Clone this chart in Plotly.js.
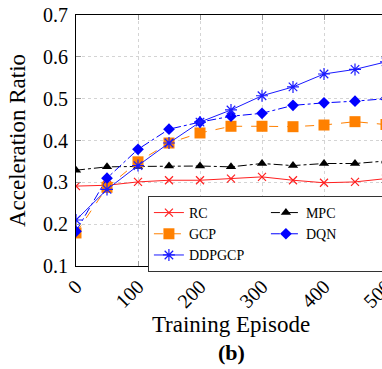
<!DOCTYPE html>
<html>
<head>
<meta charset="utf-8">
<script src="https://cdn.plot.ly/plotly-3.0.1.min.js"></script>
<style>
html,body{margin:0;padding:0;overflow:hidden;background:#fff;}
#chart{width:386px;height:369px;}
</style>
</head>
<body>
<div id="chart"></div>
<script>
const episodes = [0, 50, 100, 150, 200, 250, 300, 350, 400, 450, 500];
const rc     = [0.291, 0.293, 0.301, 0.305, 0.305, 0.309, 0.313, 0.305, 0.299, 0.301, 0.309];
const gcp    = [0.179, 0.288, 0.349, 0.394, 0.418, 0.434, 0.434, 0.433, 0.437, 0.445, 0.438];
const ddpgcp = [0.210, 0.283, 0.340, 0.394, 0.444, 0.473, 0.507, 0.528, 0.559, 0.570, 0.588];
const mpc    = [0.329, 0.337, 0.338, 0.339, 0.339, 0.337, 0.345, 0.340, 0.345, 0.345, 0.351];
const dqn    = [0.183, 0.310, 0.379, 0.427, 0.444, 0.458, 0.465, 0.484, 0.490, 0.494, 0.500];
const xTicks = [0, 100, 200, 300, 400, 500];
const yTicks = [0.1, 0.2, 0.3, 0.4, 0.5, 0.6, 0.7];

const serif = "Liberation Serif, Times New Roman, serif";

const traces = [
  {name:'RC', x:episodes, y:rc, mode:'lines+markers',
   line:{color:'#ff2020', width:1},
   marker:{symbol:'x-thin-open', size:8, color:'#ff2020', line:{color:'#ff2020', width:1.2}}},
  {name:'MPC', x:episodes, y:mpc, mode:'lines+markers',
   line:{color:'#000000', width:1, dash:'dashdot'},
   marker:{symbol:'triangle-up', size:9, color:'#000000'}},
  {name:'GCP', x:episodes, y:gcp, mode:'lines+markers',
   line:{color:'#ff8000', width:1, dash:'dash'},
   marker:{symbol:'square', size:11, color:'#ff8000'}},
  {name:'DQN', x:episodes, y:dqn, mode:'lines+markers',
   line:{color:'#0000ff', width:1, dash:'dashdot'},
   marker:{symbol:'diamond', size:9, color:'#0000ff'}},
  {name:'DDPGCP', x:episodes, y:ddpgcp, mode:'lines+markers',
   line:{color:'#1a1aff', width:1},
   marker:{symbol:'asterisk-open', size:10, color:'#1a1aff', line:{color:'#1a1aff', width:1.2}}}
];

const axisCommon = {
  showline:true, linecolor:'#000', linewidth:1, mirror:'ticks',
  ticks:'inside', ticklen:5, tickcolor:'#999', tickwidth:1,
  showgrid:true, gridcolor:'#d4d4d4', griddash:'dot', gridwidth:1,
  zeroline:false, tickfont:{family:serif, size:20, color:'#000'},
  ticklabeloverflow:'allow', automargin:false
};

const layout = {
  width:386, height:369,
  margin:{l:76, r:0, t:15, b:103},
  paper_bgcolor:'#fff', plot_bgcolor:'#fff',
  font:{family:serif, color:'#000'},
  showlegend:true,
  xaxis:Object.assign({}, axisCommon, {
    range:[0, 500], tickvals:xTicks, ticktext:xTicks.map(String), tickangle:-45,
    title:{text:'Training Episode', font:{family:serif, size:23}, standoff:4}
  }),
  yaxis:Object.assign({}, axisCommon, {
    range:[0.1, 0.7], tickvals:yTicks, ticktext:yTicks.map(v=>v.toFixed(1)),
    ticklabelstandoff:3,
    title:{text:'Acceleration Ratio', font:{family:serif, size:23}, standoff:10}
  }),
  legend:{
    orientation:'h', x:0.232, y:0.279, xanchor:'left', yanchor:'top',
    bgcolor:'#fff', bordercolor:'#333', borderwidth:1,
    font:{family:serif, size:14, color:'#000'},
    entrywidth:72, entrywidthmode:'pixels', tracegroupgap:0
  },
  annotations:[{
    text:'<b>(b)</b>', xref:'paper', yref:'paper', x:0.50, y:-0.345,
    xanchor:'center', yanchor:'middle', showarrow:false,
    font:{family:serif, size:22, color:'#000'}
  }]
};

Plotly.newPlot('chart', traces, layout, {displayModeBar:false, staticPlot:true});
</script>
</body>
</html>
